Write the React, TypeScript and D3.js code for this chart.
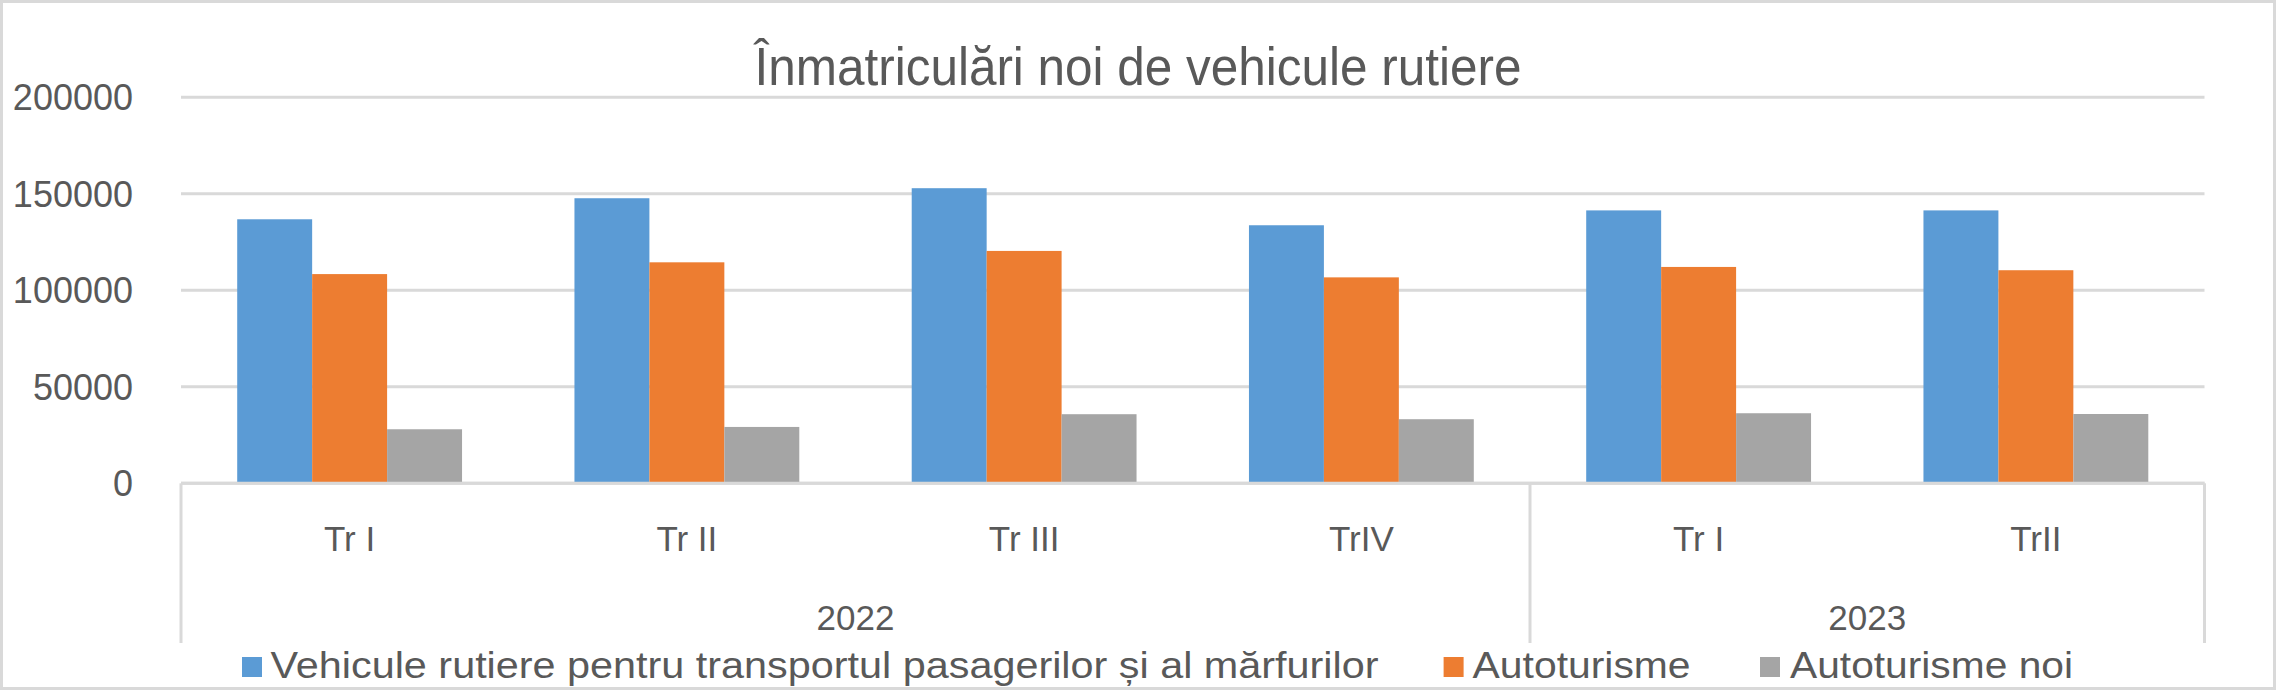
import React, { useRef, useEffect } from 'react';
import * as d3 from 'd3';

// Categorii (trimestre) si anul fiecaruia
const quarters = ['Tr I', 'Tr II', 'Tr III', 'TrIV', 'Tr I', 'TrII'];
const quarterYears = ['2022', '2022', '2022', '2022', '2023', '2023'];
const years = ['2022', '2023'];

// Serii
const seriesNames = [
  'Vehicule rutiere pentru transportul pasagerilor și al mărfurilor',
  'Autoturisme',
  'Autoturisme noi',
];
const vehiculeRutiere = [136800, 147700, 152900, 133700, 141400, 141400];
const autoturisme = [108400, 114500, 120400, 106700, 112100, 110400];
const autoturismeNoi = [28000, 29200, 35800, 33200, 36300, 35900];

const yTicks = [0, 50000, 100000, 150000, 200000];

const colors = ['#5B9BD5', '#ED7D31', '#A5A5A5'];

const App: React.FC = () => {
  const svgRef = useRef<SVGSVGElement>(null);
  const width = 2276;
  const height = 690;

  useEffect(() => {
    if (!svgRef.current) return;
    const svg = d3.select(svgRef.current);
    svg.selectAll('*').remove();

    const left = 181;
    const right = 2204.5;
    const top = 97.3;
    const bottom = 483.3;
    const textColor = '#595959';
    const gridColor = '#D9D9D9';
    const font = '"Liberation Sans", Arial, sans-serif';

    const keys = quarters.map((q, i) => `${quarterYears[i]}-${q}`);
    const allSeries = [vehiculeRutiere, autoturisme, autoturismeNoi];

    const x0 = d3.scaleBand<string>().domain(keys).range([left, right]).padding(0);
    const x1 = d3.scaleBand<string>()
      .domain(seriesNames)
      .range([0, x0.bandwidth()])
      .paddingInner(0)
      .paddingOuter(0.75);
    const y = d3.scaleLinear().domain([0, 200000]).range([bottom, top]);

    // chenar exterior
    svg.append('rect')
      .attr('x', 1.5)
      .attr('y', 1.5)
      .attr('width', width - 3)
      .attr('height', height - 3)
      .attr('fill', 'white')
      .attr('stroke', gridColor)
      .attr('stroke-width', 3);

    // titlu
    svg.append('text')
      .attr('x', 1138)
      .attr('y', 85)
      .attr('text-anchor', 'middle')
      .attr('textLength', 767)
      .attr('lengthAdjust', 'spacingAndGlyphs')
      .style('font-family', font)
      .style('font-size', '53px')
      .style('fill', textColor)
      .text('Înmatriculări noi de vehicule rutiere');

    // grila
    svg.append('g')
      .selectAll('line')
      .data(yTicks)
      .enter()
      .append('line')
      .attr('x1', left)
      .attr('x2', right)
      .attr('y1', d => y(d))
      .attr('y2', d => y(d))
      .attr('stroke', gridColor)
      .attr('stroke-width', 3);

    // etichete axa Y
    svg.append('g')
      .selectAll('text')
      .data(yTicks)
      .enter()
      .append('text')
      .attr('x', 133)
      .attr('y', d => y(d))
      .attr('dy', '0.36em')
      .attr('text-anchor', 'end')
      .style('font-family', font)
      .style('font-size', '36px')
      .style('fill', textColor)
      .text(d => String(d));

    // bare
    const groups = svg.append('g')
      .selectAll('g')
      .data(keys)
      .enter()
      .append('g')
      .attr('transform', d => `translate(${x0(d)},0)`);

    groups.selectAll('rect')
      .data((_, i) => allSeries.map((s, j) => ({ name: seriesNames[j], value: s[i], color: colors[j] })))
      .enter()
      .append('rect')
      .attr('x', d => x1(d.name) as number)
      .attr('width', x1.bandwidth())
      .attr('y', d => y(d.value))
      .attr('height', d => bottom - y(d.value))
      .attr('fill', d => d.color);

    // axa X (linie de baza redesenata peste bare)
    svg.append('line')
      .attr('x1', left)
      .attr('x2', right)
      .attr('y1', bottom)
      .attr('y2', bottom)
      .attr('stroke', gridColor)
      .attr('stroke-width', 3);

    // separatoare pe ani
    const yearBounds = [left];
    years.forEach(yr => {
      const lastKey = keys.filter((_, i) => quarterYears[i] === yr).pop() as string;
      yearBounds.push((x0(lastKey) as number) + x0.bandwidth());
    });
    svg.append('g')
      .selectAll('line')
      .data(yearBounds)
      .enter()
      .append('line')
      .attr('x1', d => d)
      .attr('x2', d => d)
      .attr('y1', bottom)
      .attr('y2', 643)
      .attr('stroke', gridColor)
      .attr('stroke-width', 3);

    // etichete trimestre
    svg.append('g')
      .selectAll('text')
      .data(keys)
      .enter()
      .append('text')
      .attr('x', d => (x0(d) as number) + x0.bandwidth() / 2)
      .attr('y', 551)
      .attr('text-anchor', 'middle')
      .style('font-family', font)
      .style('font-size', '35px')
      .style('fill', textColor)
      .text((_, i) => quarters[i]);

    // etichete ani
    svg.append('g')
      .selectAll('text')
      .data(years)
      .enter()
      .append('text')
      .attr('x', (_, i) => (yearBounds[i] + yearBounds[i + 1]) / 2)
      .attr('y', 630)
      .attr('text-anchor', 'middle')
      .style('font-family', font)
      .style('font-size', '35px')
      .style('fill', textColor)
      .text(d => d);

    // legenda
    const legendItems = [
      { sq: 242, tx: 270.5, w: 1108 },
      { sq: 1443.6, tx: 1472.6, w: 218 },
      { sq: 1760, tx: 1790, w: 283 },
    ];
    const legend = svg.append('g')
      .selectAll('g')
      .data(seriesNames)
      .enter()
      .append('g');

    legend.append('rect')
      .attr('x', (_, i) => legendItems[i].sq)
      .attr('y', 657)
      .attr('width', 20)
      .attr('height', 20)
      .attr('fill', (_, i) => colors[i]);

    legend.append('text')
      .attr('x', (_, i) => legendItems[i].tx)
      .attr('y', 678)
      .attr('textLength', (_, i) => legendItems[i].w)
      .attr('lengthAdjust', 'spacingAndGlyphs')
      .style('font-family', font)
      .style('font-size', '37px')
      .style('fill', textColor)
      .text(d => d);
  }, []);

  return (
    <svg
      ref={svgRef}
      width={width}
      height={height}
      style={{ position: 'absolute', left: 0, top: 0, display: 'block' }}
    ></svg>
  );
};

export default App;
